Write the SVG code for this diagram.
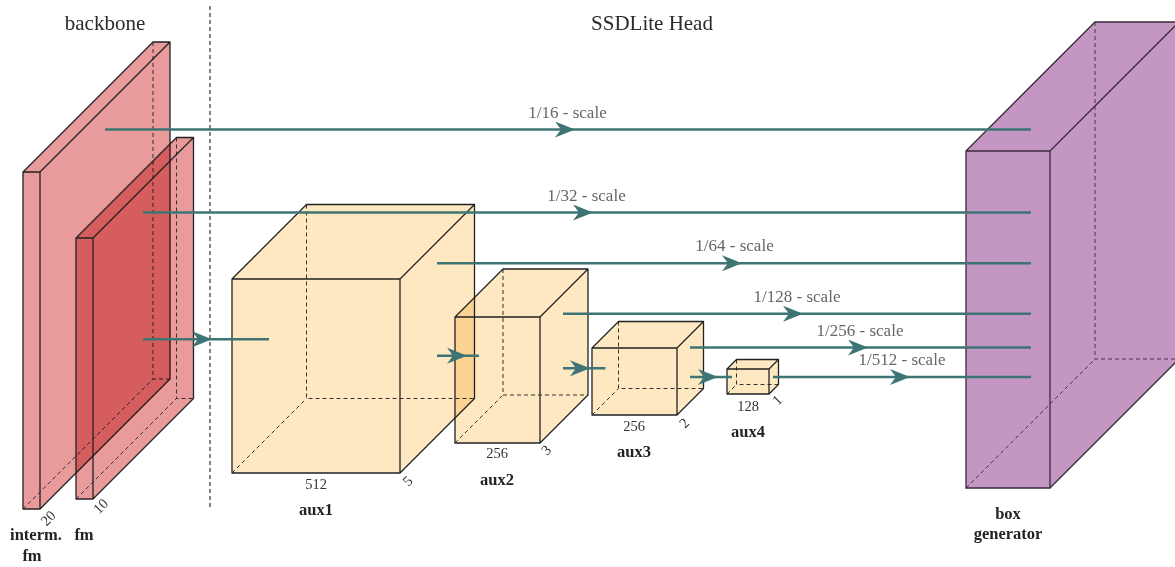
<svg xmlns="http://www.w3.org/2000/svg" width="1175" height="567" viewBox="0 0 1175 567">
<defs>
<style>
.edge{fill:none;stroke:#222;stroke-width:1.3;stroke-linejoin:round}
.hid{fill:none;stroke:#333;stroke-width:1;stroke-dasharray:4 3}
.pink{fill:#E99A9B;mix-blend-mode:multiply}
.peach{fill:#FEE8C2;mix-blend-mode:multiply}
.purple{fill:#C497C3}
.pedge{fill:none;stroke:#3b2a3b;stroke-width:1.3}
.phid{fill:none;stroke:#4a334a;stroke-width:1;stroke-dasharray:4 3}
.conn{fill:none;stroke:#3E7474;stroke-width:2.5;marker-mid:url(#stealth)}
.title{font-family:"Liberation Serif",serif;font-size:21px;fill:#2a2a2a;text-anchor:middle}
.scale{font-family:"Liberation Serif",serif;font-size:17px;fill:#666;text-anchor:middle}
.dim{font-family:"Liberation Serif",serif;font-size:14.5px;fill:#333;text-anchor:middle}
.name{font-family:"Liberation Serif",serif;font-size:16.5px;font-weight:bold;fill:#222;text-anchor:middle}
</style>
<marker id="stealth" viewBox="0 0 20 16" refX="20" refY="8" markerWidth="20" markerHeight="16" markerUnits="userSpaceOnUse" orient="auto">
<path d="M0,0 L20,8 L0,16 L6,8 Z" fill="#3E7474"/>
</marker>
</defs>
<rect width="1175" height="567" fill="#fff"/>

<text class="title" x="105" y="30">backbone</text>
<text class="title" x="652" y="30">SSDLite Head</text>
<line x1="210" y1="6" x2="210" y2="508" stroke="#333" stroke-width="1.2" stroke-dasharray="4 3"/>

<g id="interm-fm">
<path class="pink" d="M23,509 L23,172 L153,42 L170,42 L170,379 L40,509 Z"/>
<path class="hid" d="M153,42 L153,379 L170,379 M23,509 L153,379"/>
<path class="edge" d="M23,172 L40,172 L40,509 L23,509 Z M23,172 L153,42 L170,42 L170,379 L40,509 M40,172 L170,42"/>
<text class="dim" transform="translate(48,518) rotate(-45)" dy="5">20</text>
<text class="name" x="36" y="540">interm.</text>
<text class="name" x="32" y="561">fm</text>
</g>

<g id="fm">
<path class="pink" d="M76,499 L76,238 L176.5,137.5 L193.5,137.5 L193.5,398.5 L93,499 Z"/>
<path class="hid" d="M176.5,137.5 L176.5,398.5 L193.5,398.5 M76,499 L176.5,398.5"/>
<path class="edge" d="M76,238 L93,238 L93,499 L76,499 Z M76,238 L176.5,137.5 L193.5,137.5 L193.5,398.5 L93,499 M93,238 L193.5,137.5"/>
<text class="dim" transform="translate(100.5,506) rotate(-45)" dy="5">10</text>
<text class="name" x="84" y="540">fm</text>
</g>

<g id="aux1">
<path class="peach" d="M232,473 L232,279 L306.5,204.5 L474.5,204.5 L474.5,398.5 L400,473 Z"/>
<path class="hid" d="M306.5,204.5 L306.5,398.5 L474.5,398.5 M232,473 L306.5,398.5"/>
<path class="edge" d="M232,279 L400,279 L400,473 L232,473 Z M232,279 L306.5,204.5 L474.5,204.5 L474.5,398.5 L400,473 M400,279 L474.5,204.5"/>
<text class="dim" x="316" y="489">512</text>
<text class="dim" transform="translate(407.5,481) rotate(-45)" dy="5">5</text>
<text class="name" x="316" y="515">aux1</text>
</g>

<g id="aux2">
<path class="peach" d="M455,443 L455,317 L503,269 L588,269 L588,395 L540,443 Z"/>
<path class="hid" d="M503,269 L503,395 L588,395 M455,443 L503,395"/>
<path class="edge" d="M455,317 L540,317 L540,443 L455,443 Z M455,317 L503,269 L588,269 L588,395 L540,443 M540,317 L588,269"/>
<text class="dim" x="497" y="458">256</text>
<text class="dim" transform="translate(546,450) rotate(-45)" dy="5">3</text>
<text class="name" x="497" y="485">aux2</text>
</g>

<g id="aux3">
<path class="peach" d="M592,415 L592,348 L618.5,321.5 L703.5,321.5 L703.5,388.5 L677,415 Z"/>
<path class="hid" d="M618.5,321.5 L618.5,388.5 L703.5,388.5 M592,415 L618.5,388.5"/>
<path class="edge" d="M592,348 L677,348 L677,415 L592,415 Z M592,348 L618.5,321.5 L703.5,321.5 L703.5,388.5 L677,415 M677,348 L703.5,321.5"/>
<text class="dim" x="634" y="431">256</text>
<text class="dim" transform="translate(684,423) rotate(-45)" dy="5">2</text>
<text class="name" x="634" y="457">aux3</text>
</g>

<g id="aux4">
<path class="peach" d="M727,394 L727,369 L736.5,359.5 L778.5,359.5 L778.5,384.5 L769,394 Z"/>
<path class="hid" d="M736.5,359.5 L736.5,384.5 L778.5,384.5 M727,394 L736.5,384.5"/>
<path class="edge" d="M727,369 L769,369 L769,394 L727,394 Z M727,369 L736.5,359.5 L778.5,359.5 L778.5,384.5 L769,394 M769,369 L778.5,359.5"/>
<text class="dim" x="748" y="411">128</text>
<text class="dim" transform="translate(777,400) rotate(-45)" dy="5">1</text>
<text class="name" x="748" y="437">aux4</text>
</g>

<g id="box-generator">
<path class="purple" d="M966,488 L966,151 L1095,22 L1179,22 L1179,359 L1050,488 Z"/>
<path class="phid" d="M1095,22 L1095,359 L1179,359 M966,488 L1095,359"/>
<path class="pedge" d="M966,151 L1050,151 L1050,488 L966,488 Z M966,151 L1095,22 L1179,22 L1179,359 L1050,488 M1050,151 L1179,22"/>
<text class="name" x="1008" y="519">box</text>
<text class="name" x="1008" y="539">generator</text>
</g>

<g id="connectors">
<path class="conn" d="M105,129.5 L575,129.5 L1031,129.5"/>
<path class="conn" d="M143,212.5 L593,212.5 L1031,212.5"/>
<path class="conn" d="M437,263.3 L742,263.3 L1031,263.3"/>
<path class="conn" d="M563,313.7 L803,313.7 L1031,313.7"/>
<path class="conn" d="M690,347.5 L868,347.5 L1031,347.5"/>
<path class="conn" d="M773,377 L910,377 L1031,377"/>
<path class="conn" d="M143,339.3 L212,339.3 L269,339.3"/>
<path class="conn" d="M437,355.7 L467,355.7 L479,355.7"/>
<path class="conn" d="M563,368.3 L590,368.3 L605.5,368.3"/>
<path class="conn" d="M690,377 L718,377 L732,377"/>
<text class="scale" x="567.5" y="117.5">1/16 - scale</text>
<text class="scale" x="586.5" y="200.7">1/32 - scale</text>
<text class="scale" x="734.5" y="250.5">1/64 - scale</text>
<text class="scale" x="797" y="301.7">1/128 - scale</text>
<text class="scale" x="860" y="336">1/256 - scale</text>
<text class="scale" x="902" y="365">1/512 - scale</text>
</g>
</svg>
